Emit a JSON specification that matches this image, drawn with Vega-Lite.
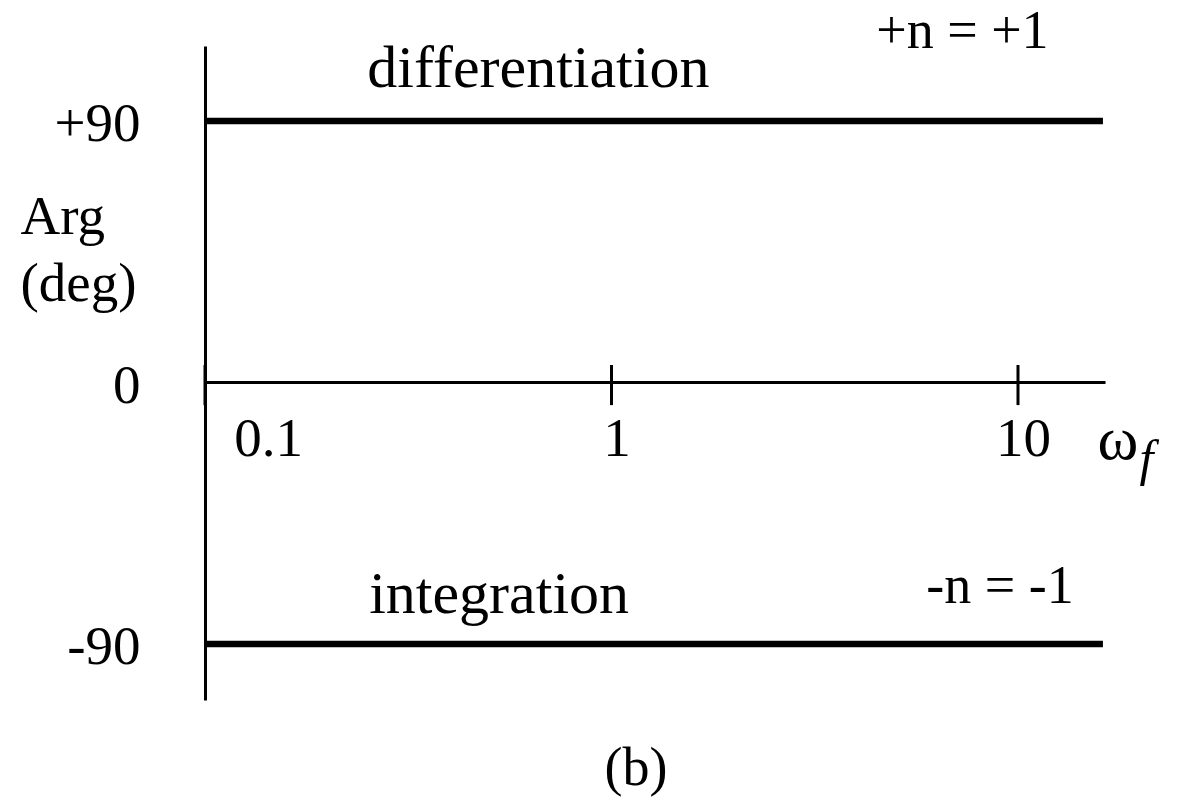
{
  "$schema": "https://vega.github.io/schema/vega-lite/v6.json",
  "width": 900,
  "height": 654,
  "autosize": {"type": "none"},
  "padding": {"left": 205, "top": 46, "right": 83, "bottom": 99},
  "background": "white",
  "config": {
    "view": {"stroke": null},
    "font": "Liberation Serif",
    "text": {"font": "Liberation Serif", "color": "black"}
  },
  "datasets": {
    "phase": [
      {"slope": "+1", "w0": 0.1, "w1": 16.18, "deg": 90},
      {"slope": "-1", "w0": 0.1, "w1": 16.18, "deg": -90}
    ],
    "decades": [
      {"w": 0.1, "lo": -7.8, "hi": 6},
      {"w": 1, "lo": -7.8, "hi": 6},
      {"w": 10, "lo": -7.8, "hi": 6}
    ],
    "regions": [
      {"w": 0.661, "deg": 101.7, "note": "differentiation"},
      {"w": 0.529, "deg": -79.4, "note": "integration"}
    ],
    "orders": [
      {"w": 7.3, "deg": 115.0, "note": "+n = +1"},
      {"w": 9.03, "deg": -75.9, "note": "-n = -1"},
      {"w": 1.149, "deg": -138.6, "note": "(b)"}
    ],
    "subscript": [
      {"w": 19.9, "deg": -31.9, "note": "f"}
    ]
  },
  "layer": [
    {
      "data": {"name": "phase"},
      "mark": {"type": "rule", "strokeWidth": 6.5, "color": "black", "strokeCap": "butt"},
      "encoding": {
        "x": {
          "field": "w0",
          "type": "quantitative",
          "scale": {"type": "log", "domain": [0.1, 16.37], "nice": false},
          "axis": {
            "title": "ω",
            "titleFont": "Liberation Serif",
            "titleFontSize": 62,
            "titleFontWeight": "normal",
            "titleColor": "black",
            "titleAlign": "left",
            "titleBaseline": "alphabetic",
            "titleAngle": 0,
            "titleX": 892,
            "titleY": 76,
            "offset": -318,
            "values": [0.1, 1, 10],
            "format": "~g",
            "grid": false,
            "ticks": false,
            "domainColor": "black",
            "domainWidth": 3,
            "labelFont": "Liberation Serif",
            "labelFontSize": 55,
            "labelColor": "black",
            "labelAlign": "center",
            "labelBaseline": "alphabetic",
            "labelPadding": 73,
            "labelFlush": false,
            "labelOverlap": false,
            "labelBound": false,
            "labelOffset": {"condition": {"test": "datum.value < 0.5", "value": 63}, "value": 5}
          }
        },
        "x2": {"field": "w1"},
        "y": {
          "field": "deg",
          "type": "quantitative",
          "scale": {"domain": [-109.3, 115.8], "nice": false, "zero": false},
          "axis": {
            "title": ["Arg", "(deg)"],
            "titleFont": "Liberation Serif",
            "titleFontSize": 55,
            "titleFontWeight": "normal",
            "titleColor": "black",
            "titleAngle": 0,
            "titleAlign": "left",
            "titleBaseline": "alphabetic",
            "titleX": -185,
            "titleY": 187,
            "titleLineHeight": 67,
            "values": [90, 0, -90],
            "labelExpr": "(datum.value > 0 ? '+' : datum.value < 0 ? '-' : '') + abs(datum.value)",
            "grid": false,
            "ticks": false,
            "domainColor": "black",
            "domainWidth": 3,
            "labelFont": "Liberation Serif",
            "labelFontSize": 55,
            "labelColor": "black",
            "labelAlign": "right",
            "labelBaseline": "alphabetic",
            "labelOffset": 20,
            "labelPadding": 65,
            "labelOverlap": false,
            "labelBound": false,
            "labelFlush": false
          }
        }
      }
    },
    {
      "data": {"name": "decades"},
      "mark": {"type": "rule", "strokeWidth": 3, "color": "black"},
      "encoding": {
        "x": {"field": "w", "type": "quantitative"},
        "y": {"field": "lo", "type": "quantitative"},
        "y2": {"field": "hi"}
      }
    },
    {
      "data": {"name": "regions"},
      "mark": {"type": "text", "fontSize": 60, "align": "center", "baseline": "alphabetic"},
      "encoding": {
        "x": {"field": "w", "type": "quantitative"},
        "y": {"field": "deg", "type": "quantitative"},
        "text": {"field": "note"}
      }
    },
    {
      "data": {"name": "orders"},
      "mark": {"type": "text", "fontSize": 54, "align": "center", "baseline": "alphabetic"},
      "encoding": {
        "x": {"field": "w", "type": "quantitative"},
        "y": {"field": "deg", "type": "quantitative"},
        "text": {"field": "note"}
      }
    },
    {
      "data": {"name": "subscript"},
      "mark": {"type": "text", "fontSize": 50, "fontStyle": "italic", "align": "left", "baseline": "alphabetic"},
      "encoding": {
        "x": {"field": "w", "type": "quantitative"},
        "y": {"field": "deg", "type": "quantitative"},
        "text": {"field": "note"}
      }
    }
  ]
}
